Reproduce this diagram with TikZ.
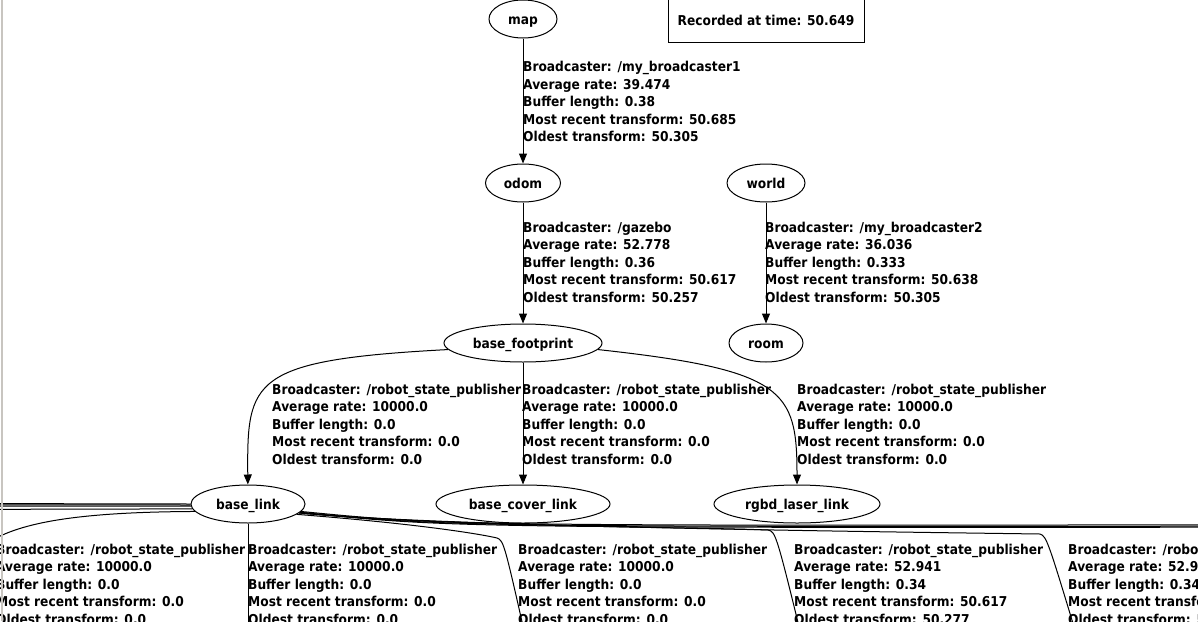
\documentclass[tikz,border=0pt]{standalone}
\usepackage{fontspec}
\setmainfont{DejaVu Sans}[FakeStretch=0.9]
\usetikzlibrary{shapes.geometric,arrows.meta}
\definecolor{panegray}{RGB}{200,197,192}

\begin{document}
\begin{tikzpicture}[
  x=1pt, y=-1pt,
  every node/.style={font=\fontsize{13.6}{17.5}\selectfont\bfseries},
  frame/.style={ellipse, draw, line width=1pt, inner sep=0pt, minimum height=38pt,
    text height=12pt, text depth=2pt},
  info/.style={anchor=north west, align=left, inner sep=0pt},
  tf/.style={line width=1pt, -{Triangle[length=10pt, width=8pt]}}
]
\useasboundingbox (0,0) rectangle (1198,621);
\clip (0,0) rectangle (1198,621);

% frames
\node[frame, minimum width=68pt] (map) at (523,19) {map};
\node[draw, line width=1pt, minimum width=196pt, minimum height=44pt] (stamp) at (766,20) {Recorded at time: 50.649};
\node[frame, minimum width=75pt] (odom) at (523,183) {odom};
\node[frame, minimum width=78pt] (world) at (766,183) {world};
\node[frame, minimum width=158pt] (footprint) at (523,343) {base\_footprint};
\node[frame, minimum width=74pt] (room) at (766,343) {room};
\node[frame, minimum width=114pt] (baselink) at (248,504) {base\_link};
\node[frame, minimum width=174pt] (coverlink) at (523,504) {base\_cover\_link};
\node[frame, minimum width=166pt] (laserlink) at (797,504) {rgbd\_laser\_link};

% children of base_link lying outside the view
\coordinate (kidA) at (-20,548);
\coordinate (kidB) at (248,700);
\coordinate (kidC) at (535,680);
\coordinate (kidD) at (812,680);
\coordinate (kidE) at (1090,680);
\coordinate (farL1) at (-300,503);
\coordinate (farL2) at (-300,504.5);
\coordinate (farL3) at (-300,506);
\coordinate (farL4) at (-300,510);
\coordinate (farR1) at (1400,524.5);
\coordinate (farR2) at (1400,526);
\coordinate (farR3) at (1400,527);

% transform info
\node[info] (mapinfo) at (523,61) {Broadcaster: /my\_broadcaster1\\Average rate: 39.474\\Buffer length: 0.38\\Most recent transform: 50.685\\Oldest transform: 50.305};
\node[info] (odominfo) at (523,221.5) {Broadcaster: /gazebo\\Average rate: 52.778\\Buffer length: 0.36\\Most recent transform: 50.617\\Oldest transform: 50.257};
\node[info] (worldinfo) at (765,221.5) {Broadcaster: /my\_broadcaster2\\Average rate: 36.036\\Buffer length: 0.333\\Most recent transform: 50.638\\Oldest transform: 50.305};
\node[info] (linkinfo) at (272,383.5) {Broadcaster: /robot\_state\_publisher\\Average rate: 10000.0\\Buffer length: 0.0\\Most recent transform: 0.0\\Oldest transform: 0.0};
\node[info] (coverinfo) at (522,383.5) {Broadcaster: /robot\_state\_publisher\\Average rate: 10000.0\\Buffer length: 0.0\\Most recent transform: 0.0\\Oldest transform: 0.0};
\node[info] (laserinfo) at (797,383.5) {Broadcaster: /robot\_state\_publisher\\Average rate: 10000.0\\Buffer length: 0.0\\Most recent transform: 0.0\\Oldest transform: 0.0};
\node[info] (kidAinfo) at (-4,543.5) {Broadcaster: /robot\_state\_publisher\\Average rate: 10000.0\\Buffer length: 0.0\\Most recent transform: 0.0\\Oldest transform: 0.0};
\node[info] (kidBinfo) at (248,543.5) {Broadcaster: /robot\_state\_publisher\\Average rate: 10000.0\\Buffer length: 0.0\\Most recent transform: 0.0\\Oldest transform: 0.0};
\node[info] (kidCinfo) at (518,543.5) {Broadcaster: /robot\_state\_publisher\\Average rate: 10000.0\\Buffer length: 0.0\\Most recent transform: 0.0\\Oldest transform: 0.0};
\node[info] (kidDinfo) at (794,543.5) {Broadcaster: /robot\_state\_publisher\\Average rate: 52.941\\Buffer length: 0.34\\Most recent transform: 50.617\\Oldest transform: 50.277};
\node[info] (kidEinfo) at (1068,543.5) {Broadcaster: /robot\_state\_publisher\\Average rate: 52.941\\Buffer length: 0.34\\Most recent transform: 50.617\\Oldest transform: 50.277};

% transforms
\draw[tf] (map) -- (odom);
\draw[tf] (odom) -- (footprint);
\draw[tf] (world) -- (room);
\draw[tf] (footprint) -- (coverlink);
\draw[tf] (footprint.185) .. controls (250,360) and (247,380) .. (baselink);
\draw[tf] (footprint.-5) .. controls (785,370) and (797,390) .. (laserlink);

\draw[tf] (baselink) -- (kidB);
\draw[tf] (baselink.188) .. controls (80,512) and (20,522) .. (kidA);
\draw[tf] (baselink.180) -- (farL1);
\draw[tf] (baselink.181) -- (farL2);
\draw[tf] (baselink.182) -- (farL3);
\draw[tf] (baselink.185) -- (farL4);
\draw[tf] (baselink.-12) .. controls (420,524) and (480,534) .. (497,538) .. controls (504,541) .. (kidC);
\draw[tf] (baselink.-10) .. controls (450,527) and (700,527) .. (768,530) .. controls (776,532) .. (kidD);
\draw[tf] (baselink.-10) .. controls (450,527) and (900,532) .. (1040,534) .. controls (1047,537) .. (kidE);
\draw[tf] (baselink.-8) .. controls (450,526) .. (farR1);
\draw[tf] (baselink.-9) .. controls (450,527) .. (farR2);
\draw[tf] (baselink.-9) .. controls (450,528) .. (farR3);

% window edge
\draw[panegray, line width=1.5pt] (2,0) -- (2,621);
\end{tikzpicture}
\end{document}
